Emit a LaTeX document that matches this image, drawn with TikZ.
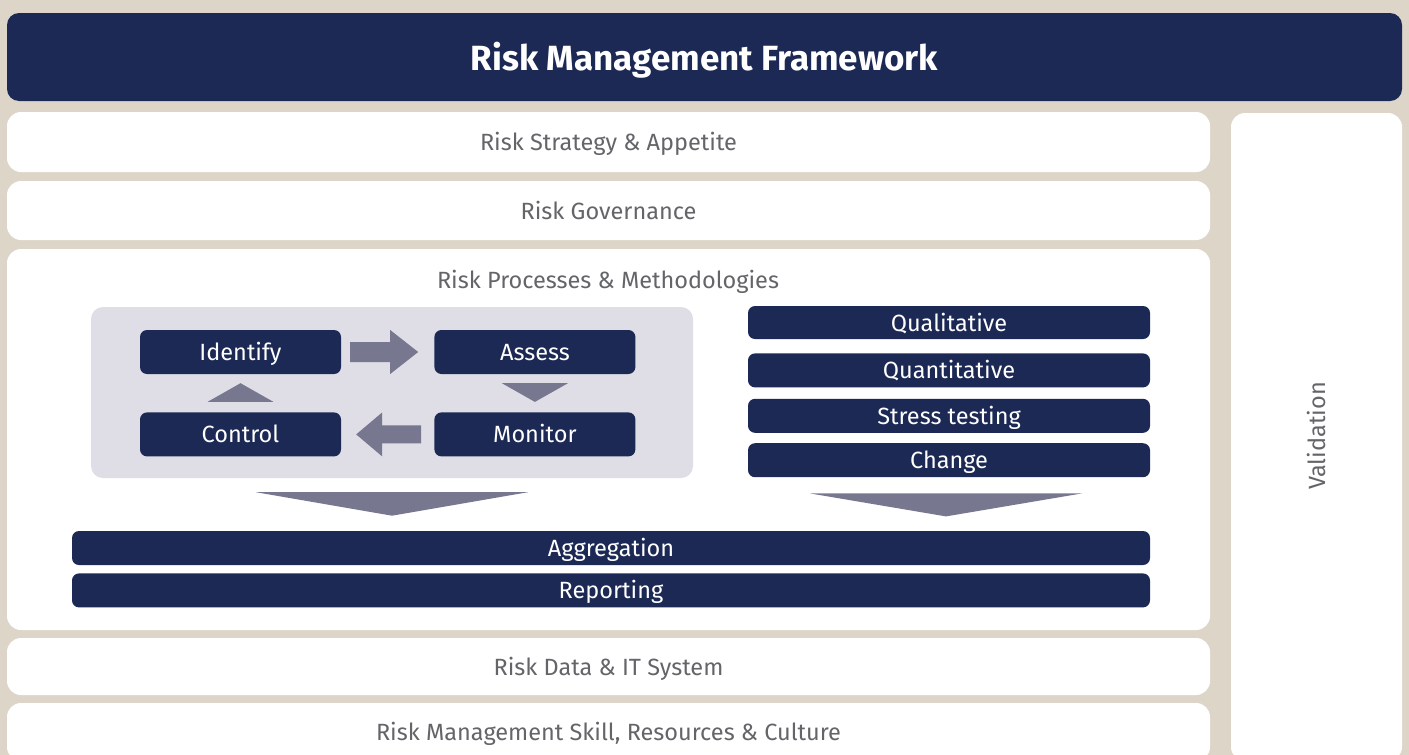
\documentclass[tikz,border=0pt]{standalone}
\usepackage{fontspec}
\setmainfont{Fira Sans}
\usetikzlibrary{positioning}

\definecolor{rmfbg}{HTML}{DDD6C8}
\definecolor{rmfnavy}{HTML}{1C2955}
\definecolor{rmfpanel}{HTML}{DFDEE7}
\definecolor{rmfarrow}{HTML}{77778F}
\definecolor{rmfgray}{HTML}{646569}

\begin{document}
\begin{tikzpicture}[
  x=1pt, y=-1pt,
  band/.style={fill=white, rounded corners=14pt, inner sep=0pt, text=rmfgray,
               font=\fontsize{23.5}{28}\selectfont, text height=19pt, text depth=2pt},
  navybox/.style={fill=rmfnavy, rounded corners=7pt, inner sep=0pt, text=white,
                  font=\fontsize{23.5}{28}\selectfont, text height=19pt, text depth=2pt},
  stepbox/.style={navybox, minimum width=201pt, minimum height=44pt},
  kindbox/.style={navybox, minimum width=402pt, minimum height=34pt},
  wide/.style={navybox, minimum width=1078pt, minimum height=34pt},
  blockarr/.style={fill=rmfarrow}
]
  \clip (0,0) rectangle (1409,755);
  \fill[rmfbg] (0,0) rectangle (1409,755);

  % heading
  \node[fill=rmfnavy, rounded corners=12pt, minimum width=1395pt, minimum height=88pt,
        inner sep=0pt, text height=28pt, text depth=2pt,
        text=white, font=\fontsize{35}{40}\selectfont\bfseries] (title) at (704.5,57)
        {Risk Management Framework};

  % horizontal layers
  \node[band, minimum width=1203pt, minimum height=60pt] (strategy) at (608.5,142) {Risk Strategy \& Appetite};
  \node[band, minimum width=1203pt, minimum height=59pt] (governance) at (608.5,210.5) {Risk Governance};
  \node[band, minimum width=1203pt, minimum height=381pt] (process) at (608.5,439.5) {};
  \node[band, fill=none] (processtitle) at (608,280) {Risk Processes \& Methodologies};
  \node[band, minimum width=1203pt, minimum height=57pt] (data) at (608.5,666.5) {Risk Data \& IT System};
  \node[band, minimum width=1203pt, minimum height=58pt] (skill) at (608.5,732) {Risk Management Skill, Resources \& Culture};

  % side column
  \node[band, minimum width=171pt, minimum height=648pt] (validbox) at (1316.5,437) {};
  \node[band, fill=none, rotate=90, xshift=1pt] (valid) at (validbox.center) {Validation};

  % process cycle
  \node[fill=rmfpanel, rounded corners=12pt, minimum width=602pt, minimum height=171pt] (panel) at (392,392.5) {};
  \node[stepbox] (identify) at (240.5,352) {Identify};
  \node[stepbox, right=93pt of identify] (assess) {Assess};
  \node[stepbox, below=38pt of identify] (control) {Control};
  \node[stepbox, below=38pt of assess] (monitor) {Monitor};

  \fill[blockarr, shift={(identify.east)}] (9,-10) -- (49,-10) -- (49,-22) -- (77,0) -- (49,22) -- (49,10) -- (9,10) -- cycle;
  \fill[blockarr, shift={(assess.south)}] (-33,9) -- (33,9) -- (0,27.7) -- cycle;
  \fill[blockarr, shift={(control.east)}] (80,-9) -- (41,-9) -- (41,-22) -- (15,0) -- (41,22) -- (41,9) -- (80,9) -- cycle;
  \fill[blockarr, shift={(identify.south)}] (-33,27.7) -- (33,27.7) -- (0,9) -- cycle;

  % kinds of method
  \node[kindbox, minimum height=33pt] (qual) at (949,322.5) {Qualitative};
  \node[kindbox, below=14pt of qual] (quant) {Quantitative};
  \node[kindbox, below=11pt of quant] (stress) {Stress testing};
  \node[kindbox, below=10pt of stress] (change) {Change};

  \fill[blockarr, shift={(panel.south)}] (-136,14) -- (136,14) -- (0,37.5) -- cycle;
  \fill[blockarr, shift={(change.south)}] (-139,16) -- (133,16) -- (-3,39) -- cycle;

  % outputs
  \node[wide] (aggr) at (611,548) {Aggregation};
  \node[wide, below=8pt of aggr] (report) {Reporting};
\end{tikzpicture}
\end{document}
